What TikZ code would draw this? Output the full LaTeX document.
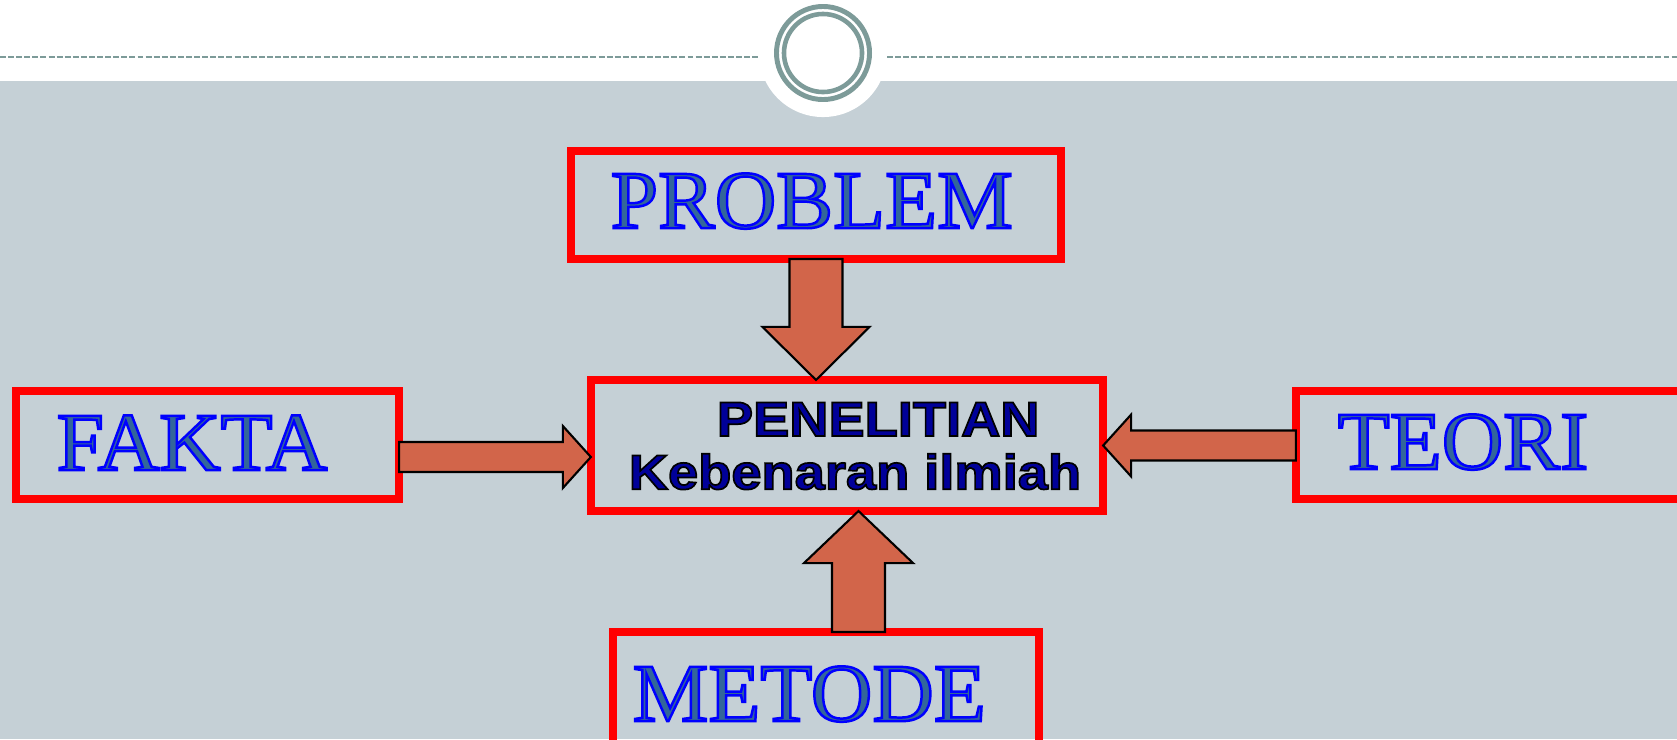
\documentclass[tikz,border=0pt]{standalone}
\usepackage{fontspec}
\usetikzlibrary{calc, positioning}
\newfontfamily\labelfont[FakeBold=3, FakeStretch=1.03]{Liberation Serif}
\newfontfamily\centrefont[FakeBold=3.5, FakeStretch=1.11]{Liberation Sans Bold}
\definecolor{slidegrey}{HTML}{C5D0D6}
\definecolor{ringgrey}{HTML}{7D9B99}
\definecolor{arrowred}{HTML}{D2654A}
\definecolor{labelfill}{HTML}{33669A}
\definecolor{centrefill}{HTML}{000099}
% stroke colour of the outlined letters
\newcommand{\strokecolour}[1]{\special{pdf:literal direct #1 RG}}
\tikzstyle{box} = [rectangle, draw=red, line width=2.3pt, inner sep=0pt,
                 outer sep=0pt]
\tikzstyle{blockarrow} = [draw=black, fill=arrowred, line width=0.6pt]
\tikzset{
	boxlabel/.style={anchor=base west, inner sep=0pt, text=labelfill,
		font=\labelfont\fontsize{23.5}{28}\selectfont},
	centretext/.style={align=center, inner sep=0pt, text=centrefill,
		font=\centrefont\fontsize{13.9}{15.1}\selectfont},
}

\begin{document}
\begin{tikzpicture}[x=0.01cm, y=-0.01cm]
\useasboundingbox (0,0) rectangle (1677,739);
\clip (0,0) rectangle (1677,739);

% slide background
\fill[white] (0,0) rectangle (1677,81);
\fill[slidegrey] (0,81) rectangle (1677,739);
\draw[ringgrey, line width=0.6pt, dash pattern=on 1.7pt off 0.6pt]
	(0,57) -- (758,57) (887,57) -- (1677,57);
\fill[white] (823,53) circle[radius=0.64cm];
\draw[ringgrey, line width=1.4pt] (823,53) circle[radius=0.465cm];
\draw[ringgrey, line width=1.3pt] (823,53) circle[radius=0.39cm];

% boxes
\node [box, minimum width=4.90cm, minimum height=1.08cm] at (816,205) (problem) {};
\node [box, minimum width=3.83cm, minimum height=1.08cm] at (207.5,445) (fakta) {};
\node [box, minimum width=3.89cm, minimum height=1.08cm] at (1490.5,445) (teori) {};
\node [box, minimum width=5.12cm, minimum height=1.31cm] at (847,445.5) (penelitian) {};
\node [box, minimum width=4.26cm, minimum height=1.16cm] at (826,690) (metode) {};

% arrows
\coordinate (problem tail) at (problem.south);
\coordinate (problem tip) at (problem.south |- penelitian.north);
\coordinate (fakta tail) at ($(fakta.east)+(0,12)$);
\coordinate (fakta tip) at (fakta tail -| penelitian.west);
\coordinate (teori tail) at (teori.west |- penelitian.east);
\coordinate (teori tip) at (penelitian.east);
\coordinate (metode tail) at ($(metode.north)+(32.5,0)$);
\coordinate (metode tip) at (metode tail |- penelitian.south);

\foreach \from/\to/\shaft/\head/\len in {
	problem tail/problem tip/0.265cm/0.535cm/0.53cm,
	fakta tail/fakta tip/0.15cm/0.31cm/0.28cm,
	teori tail/teori tip/0.15cm/0.31cm/0.28cm,
	metode tail/metode tip/0.265cm/0.545cm/0.52cm}
{
	\coordinate (base) at ($(\to)!\len!(\from)$);
	\path [blockarrow] ($(\from)!\shaft!90:(\to)$) -- ($(base)!\shaft!90:(\to)$)
		-- ($(base)!\head!90:(\to)$) -- (\to) -- ($(base)!\head!-90:(\to)$)
		-- ($(base)!\shaft!-90:(\to)$) -- ($(\from)!\shaft!-90:(\to)$) -- cycle;
}

% texts
\node [boxlabel] at (610,228) (problem label) {\strokecolour{0 0 1}PROBLEM};
\node [boxlabel] at (56,470) (fakta label) {\strokecolour{0 0 1}FAKTA};
\node [boxlabel] at (1337,469) (teori label) {\strokecolour{0 0 1}TEORI};
\node [boxlabel] at (632,721) (metode label) {\strokecolour{0 0 1}METODE};
\node [centretext] at (855,446) (penelitian text)
	{\strokecolour{0 0 0}\hspace*{0.95em}PENELITIAN\\\strokecolour{0 0 0}Kebenaran ilmiah};

\end{tikzpicture}
\end{document}
